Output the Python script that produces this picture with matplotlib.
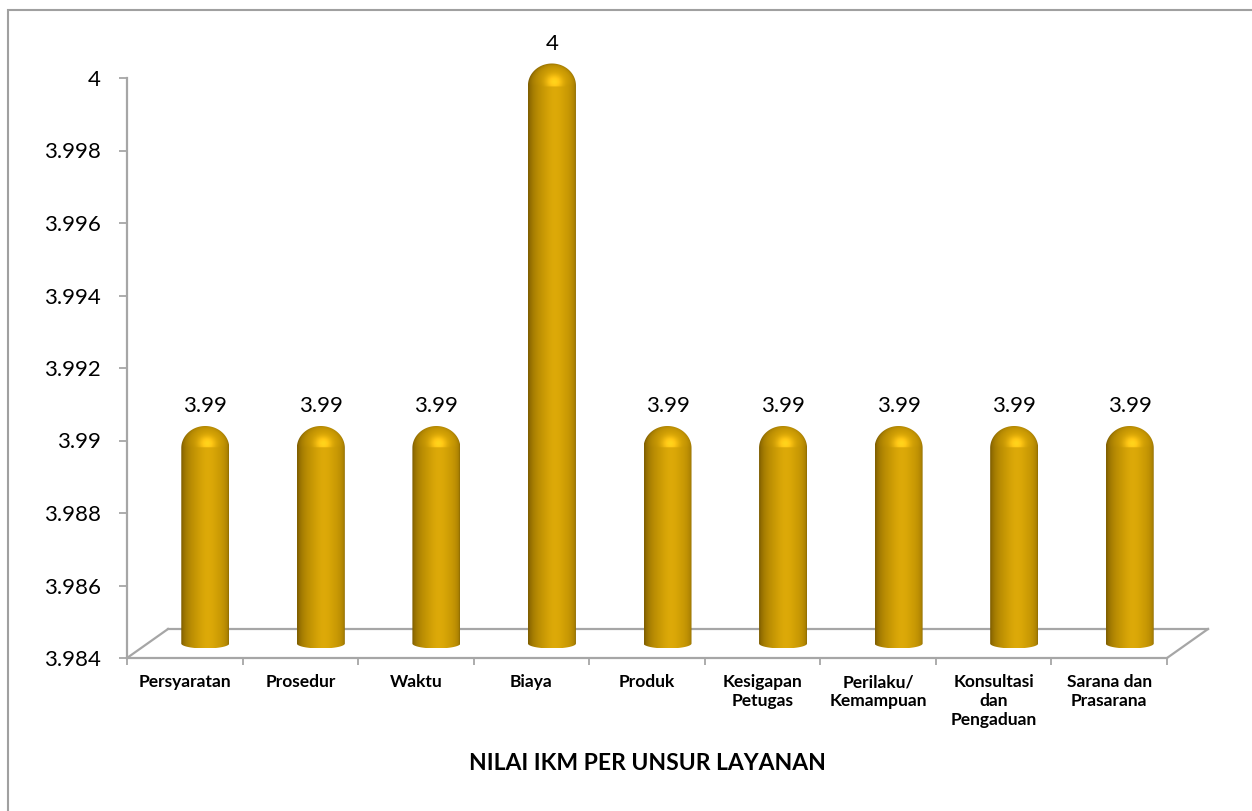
import numpy as np
import matplotlib
matplotlib.use("Agg")
import matplotlib.pyplot as plt
from matplotlib.path import Path
from matplotlib.patches import PathPatch, Rectangle

categories = ["Persyaratan", "Prosedur", "Waktu", "Biaya", "Produk",
              "Kesigapan\nPetugas", "Perilaku/\nKemampuan",
              "Konsultasi\ndan\nPengaduan", "Sarana dan\nPrasarana"]
values = [3.99, 3.99, 3.99, 4.0, 3.99, 3.99, 3.99, 3.99, 3.99]
value_labels = ["3.99", "3.99", "3.99", "4", "3.99", "3.99", "3.99", "3.99", "3.99"]
yticks = [3.984, 3.986, 3.988, 3.99, 3.992, 3.994, 3.996, 3.998, 4.0]
ytick_labels = ["3.984", "3.986", "3.988", "3.99", "3.992", "3.994", "3.996", "3.998", "4"]
title = "NILAI IKM PER UNSUR LAYANAN"

plt.rcParams['font.family'] = ['Lato', 'DejaVu Sans']

W, H = 1252, 811
fig = plt.figure(figsize=(W / 100, H / 100), dpi=100)
ax = fig.add_axes([127 / W, 1 - 658 / H, 1040 / W, 580 / H])
ymin, ymax = 3.984, 4.0
n = len(categories)
ax.set_xlim(0, n)
ax.set_ylim(ymin, ymax)

# pixel -> data helpers
px_x = n / 1040.0
px_y = (ymax - ymin) / 580.0
ddx, ddy = 41 * px_x, 29 * px_y   # depth of the 3d floor

grey = "#a6a6a6"
# floor
ax.plot([0, ddx], [ymin, ymin + ddy], color=grey, lw=1.6, clip_on=False, zorder=1)
ax.plot([ddx, n + ddx], [ymin + ddy, ymin + ddy], color=grey, lw=1.6, clip_on=False, zorder=1)
ax.plot([n, n + ddx], [ymin, ymin + ddy], color=grey, lw=1.6, clip_on=False, zorder=1)

for s in ["top", "right"]:
    ax.spines[s].set_visible(False)
for s in ["left", "bottom"]:
    ax.spines[s].set_color(grey)
    ax.spines[s].set_linewidth(1.6)
ax.set_yticks(yticks)
ax.set_yticklabels(ytick_labels, fontsize=16)
ax.set_xticks(range(n + 1))
ax.set_xticklabels([])
ax.tick_params(axis="y", length=6, width=1.3, color=grey, pad=13)
ax.tick_params(axis="x", length=5, width=1.3, color=grey)

# cylinder bars with rounded top
bw = 48 * px_x / 2
dome_h = 22 * px_y
ell_h = 5 * px_y
light = np.array([0.2, 0.35, 1.0])
light = light / np.linalg.norm(light)
dark = np.array([0.50, 0.37, 0.0])
bright = np.array([0.85, 0.65, 0.02])

for i, v in enumerate(values):
    xc = i + 0.5 + ddx / 2
    yb = ymin + ddy / 2
    ytop = v + ddy / 2
    ybody = ytop - dome_h

    # outline path
    t = np.linspace(0, np.pi, 60)
    left = [(xc - bw, yb), (xc - bw, ybody)]
    dome = list(zip(xc - bw * np.cos(t), ybody + dome_h * np.sin(t)))
    right = [(xc + bw, ybody), (xc + bw, yb)]
    bottom = list(zip(xc + bw * np.cos(t), yb - ell_h * np.sin(t)))
    verts = left + dome + right + bottom
    path = Path(verts + [verts[0]], closed=True)

    # shading image
    nx, ny = 80, 400
    xs = np.linspace(-1, 1, nx)
    ys = np.linspace(yb - ell_h, ytop, ny)
    U, Y = np.meshgrid(xs, ys)
    T = np.clip((Y - ybody) / dome_h, 0, 1)
    NX = U
    NY = np.where(Y > ybody, T, 0.0)
    NZ = np.sqrt(np.clip(1 - NX ** 2 - NY ** 2, 0, 1))
    lam = np.clip(NX * light[0] + NY * light[1] + NZ * light[2], 0, 1)
    refl = 2 * lam[..., None] * np.stack([NX, NY, NZ], -1) - light
    spec = np.clip(refl[..., 2], 0, 1) ** 4 * 0.22
    spec = np.where(Y > ybody, spec, spec * 0.2)
    rgb = dark + (bright - dark) * lam[..., None]
    rgb = rgb + spec[..., None] * np.array([1.0, 0.85, 0.4])
    rgb = np.clip(rgb, 0, 1)

    im = ax.imshow(rgb, extent=[xc - bw, xc + bw, yb - ell_h, ytop],
                   origin="lower", aspect="auto", interpolation="bilinear",
                   zorder=3)
    patch = PathPatch(path, facecolor="none", edgecolor="none", transform=ax.transData)
    ax.add_patch(patch)
    im.set_clip_path(patch)
    im.set_clip_box(fig.bbox)

    ax.annotate(value_labels[i], (xc, ytop), xytext=(0, 10), textcoords="offset pixels",
                ha="center", va="bottom", fontsize=16, zorder=5, annotation_clip=False)

# category labels
for i, c in enumerate(categories):
    ax.annotate(c, (i + 0.5, ymin), xytext=(0, -16), textcoords="offset pixels",
                ha="center", va="top", fontsize=12.5, fontweight="bold",
                linespacing=1.25, annotation_clip=False)

fig.text(647 / W, 1 - 763 / H, title, ha="center", va="center",
         fontsize=16.5, fontweight="bold")

fig.add_artist(Rectangle((8 / W, -0.05), 1.1, 1 - 10 / H + 0.05,
                         transform=fig.transFigure, facecolor="none",
                         edgecolor="#a0a0a0", lw=1.5, clip_on=False))

fig.savefig("out.png", dpi=100)
